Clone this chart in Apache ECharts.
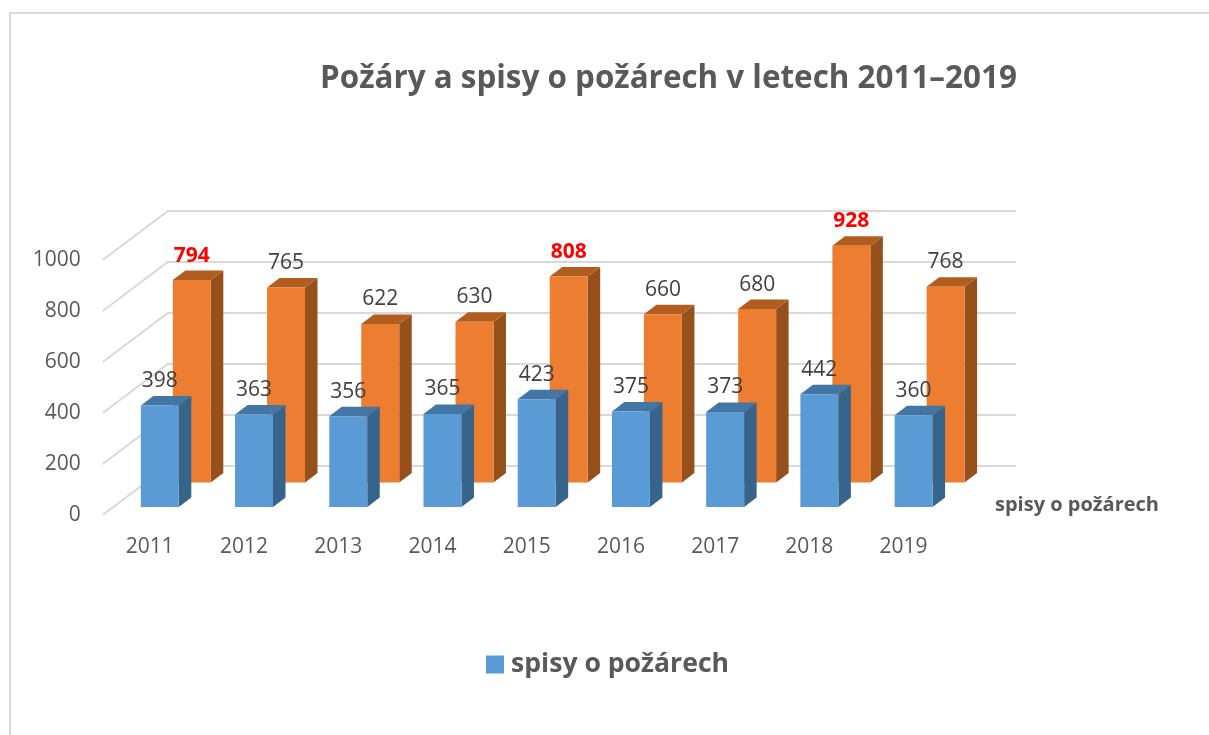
<!DOCTYPE html>
<html>
<head>
<meta charset="utf-8">
<title>Požáry a spisy o požárech</title>
<script src="https://cdn.jsdelivr.net/npm/echarts@6/dist/echarts.min.js"></script>
<style>
  html, body { margin: 0; padding: 0; background: #fff; }
  #chart { width: 1209px; height: 735px; }
</style>
</head>
<body>
<div id="chart"></div>
<script>
let years = ['2011','2012','2013','2014','2015','2016','2017','2018','2019'];
let spisy = [398,363,356,365,423,375,373,442,360];
let pozary = [794,765,622,630,808,660,680,928,768];
let redYears = ['2011','2015','2018'];   // only the orange labels for these are red
let yTicks = [0,200,400,600,800,1000];

let font = '"Open Sans", sans-serif';

// fake 3D: each row is pushed right/up from the front axis
function bars3d(values, shiftX, shiftY, colors, useRed) {
    return function(params, api) {
        let i = api.value(0);
        let top = api.coord([i, api.value(1)]);
        let base = api.coord([i, 0]);
        let w = api.size([1, 0])[0] * 0.403;
        let x0 = top[0] + shiftX - w / 2;
        let x1 = x0 + w;
        let y0 = top[1] + shiftY;
        let y1 = base[1] + shiftY;
        let dx = 12.5, dy = 9.5;
        let red = useRed && redYears.indexOf(years[i]) >= 0;
        return {
            type: 'group',
            children: [
                { type: 'polygon', shape: { points: [[x1,y0],[x1+dx,y0-dy],[x1+dx,y1-dy],[x1,y1]] }, style: { fill: colors[1] } },
                { type: 'polygon', shape: { points: [[x0,y0],[x1,y0],[x1+dx,y0-dy],[x0+dx,y0-dy]] }, style: { fill: colors[2] } },
                { type: 'rect', shape: { x: x0, y: y0, width: w, height: y1 - y0 }, style: { fill: colors[0] } },
                { type: 'text', z2: 10, style: {
                    x: (x0 + x1) / 2, y: y0 - 24.5,
                    text: String(api.value(1)),
                    align: 'center', verticalAlign: 'middle',
                    fontFamily: font, fontSize: 21,
                    fontWeight: red ? 'bold' : 'normal',
                    fill: red ? '#ff0000' : '#404040'
                } }
            ]
        };
    };
}

// diagonal part of the gridlines, from the front axis back to the wall
function wallDiagonals(params, api) {
    let y = api.coord([0, api.value(0)])[1];
    let x = params.coordSys.x;
    return {
        type: 'line',
        shape: { x1: x, y1: y, x2: x + 65, y2: y - 49 },
        style: { stroke: '#d9d9d9', lineWidth: 2 }
    };
}

let myChart = echarts.init(document.getElementById('chart'));
let option = {
    backgroundColor: '#ffffff',
    animation: false,
    title: {
        text: 'Požáry a spisy o požárech v letech 2011–2019',
        left: 320, top: 54, padding: [10, 0, 0, 0],
        textStyle: { fontFamily: font, fontSize: 31.4, fontWeight: 'bold', color: '#595959' }
    },
    legend: {
        data: ['spisy o požárech'],
        left: 486, top: 651, padding: 0,
        icon: 'rect', itemWidth: 18, itemHeight: 18, itemGap: 7,
        textStyle: { fontFamily: font, fontSize: 26.6, fontWeight: 'bold', color: '#595959', padding: [0, 0, 0, 2] }
    },
    grid: [
        { left: 102.7, top: 260, width: 848, height: 255 },
        { left: 167, top: 211, width: 849, height: 255 }
    ],
    xAxis: [
        {
            type: 'category', gridIndex: 0, data: years,
            axisLine: { show: false }, axisTick: { show: false },
            axisLabel: { fontFamily: font, fontSize: 21, color: '#595959', margin: 22 }
        },
        {
            type: 'category', gridIndex: 1, data: years,
            axisLine: { show: false }, axisTick: { show: false }, axisLabel: { show: false }
        }
    ],
    yAxis: [
        {
            type: 'value', gridIndex: 0, min: 0, max: 1000, interval: 200,
            axisLine: { show: false }, axisTick: { show: false },
            splitLine: { show: false },
            axisLabel: { fontFamily: font, fontSize: 21, color: '#595959', margin: 22, padding: [2, 0, 0, 0],
                         formatter: function(v) { return String(v); } }
        },
        {
            type: 'value', gridIndex: 1, min: 0, max: 1000, interval: 200,
            axisLine: { show: false }, axisTick: { show: false }, axisLabel: { show: false },
            splitLine: { show: true, lineStyle: { color: '#d9d9d9', width: 2 } }
        }
    ],
    graphic: [
        { type: 'rect', silent: true, shape: { x: 10, y: 13, width: 1400, height: 900 },
          style: { fill: 'transparent', stroke: '#d9d9d9', lineWidth: 2 } },
        { type: 'text', silent: true, x: 995, y: 505,
          style: { text: 'spisy o požárech', fontFamily: font, fontSize: 20, fontWeight: 'bold',
                   fill: '#595959', verticalAlign: 'middle' } }
    ],
    series: [
        {
            type: 'custom', name: 'mřížka', xAxisIndex: 0, yAxisIndex: 0,
            data: yTicks, encode: { y: 0 }, renderItem: wallDiagonals, silent: true, z: 1
        },
        {
            type: 'custom', name: 'požáry', xAxisIndex: 0, yAxisIndex: 0,
            data: pozary.map(function(v, i) { return [i, v]; }),
            encode: { x: 0, y: 1 },
            itemStyle: { color: '#ed7d31' },
            renderItem: bars3d(pozary, 42, -32.5, ['#ed7d31', '#96501c', '#b15d20'], true), z: 3
        },
        {
            type: 'custom', name: 'spisy o požárech', xAxisIndex: 0, yAxisIndex: 0,
            data: spisy.map(function(v, i) { return [i, v]; }),
            encode: { x: 0, y: 1 },
            itemStyle: { color: '#5b9bd5' },
            renderItem: bars3d(spisy, 10, -8, ['#5b9bd5', '#37648b', '#4276a4'], false), z: 4
        }
    ]
};
myChart.setOption(option);
</script>
</body>
</html>
